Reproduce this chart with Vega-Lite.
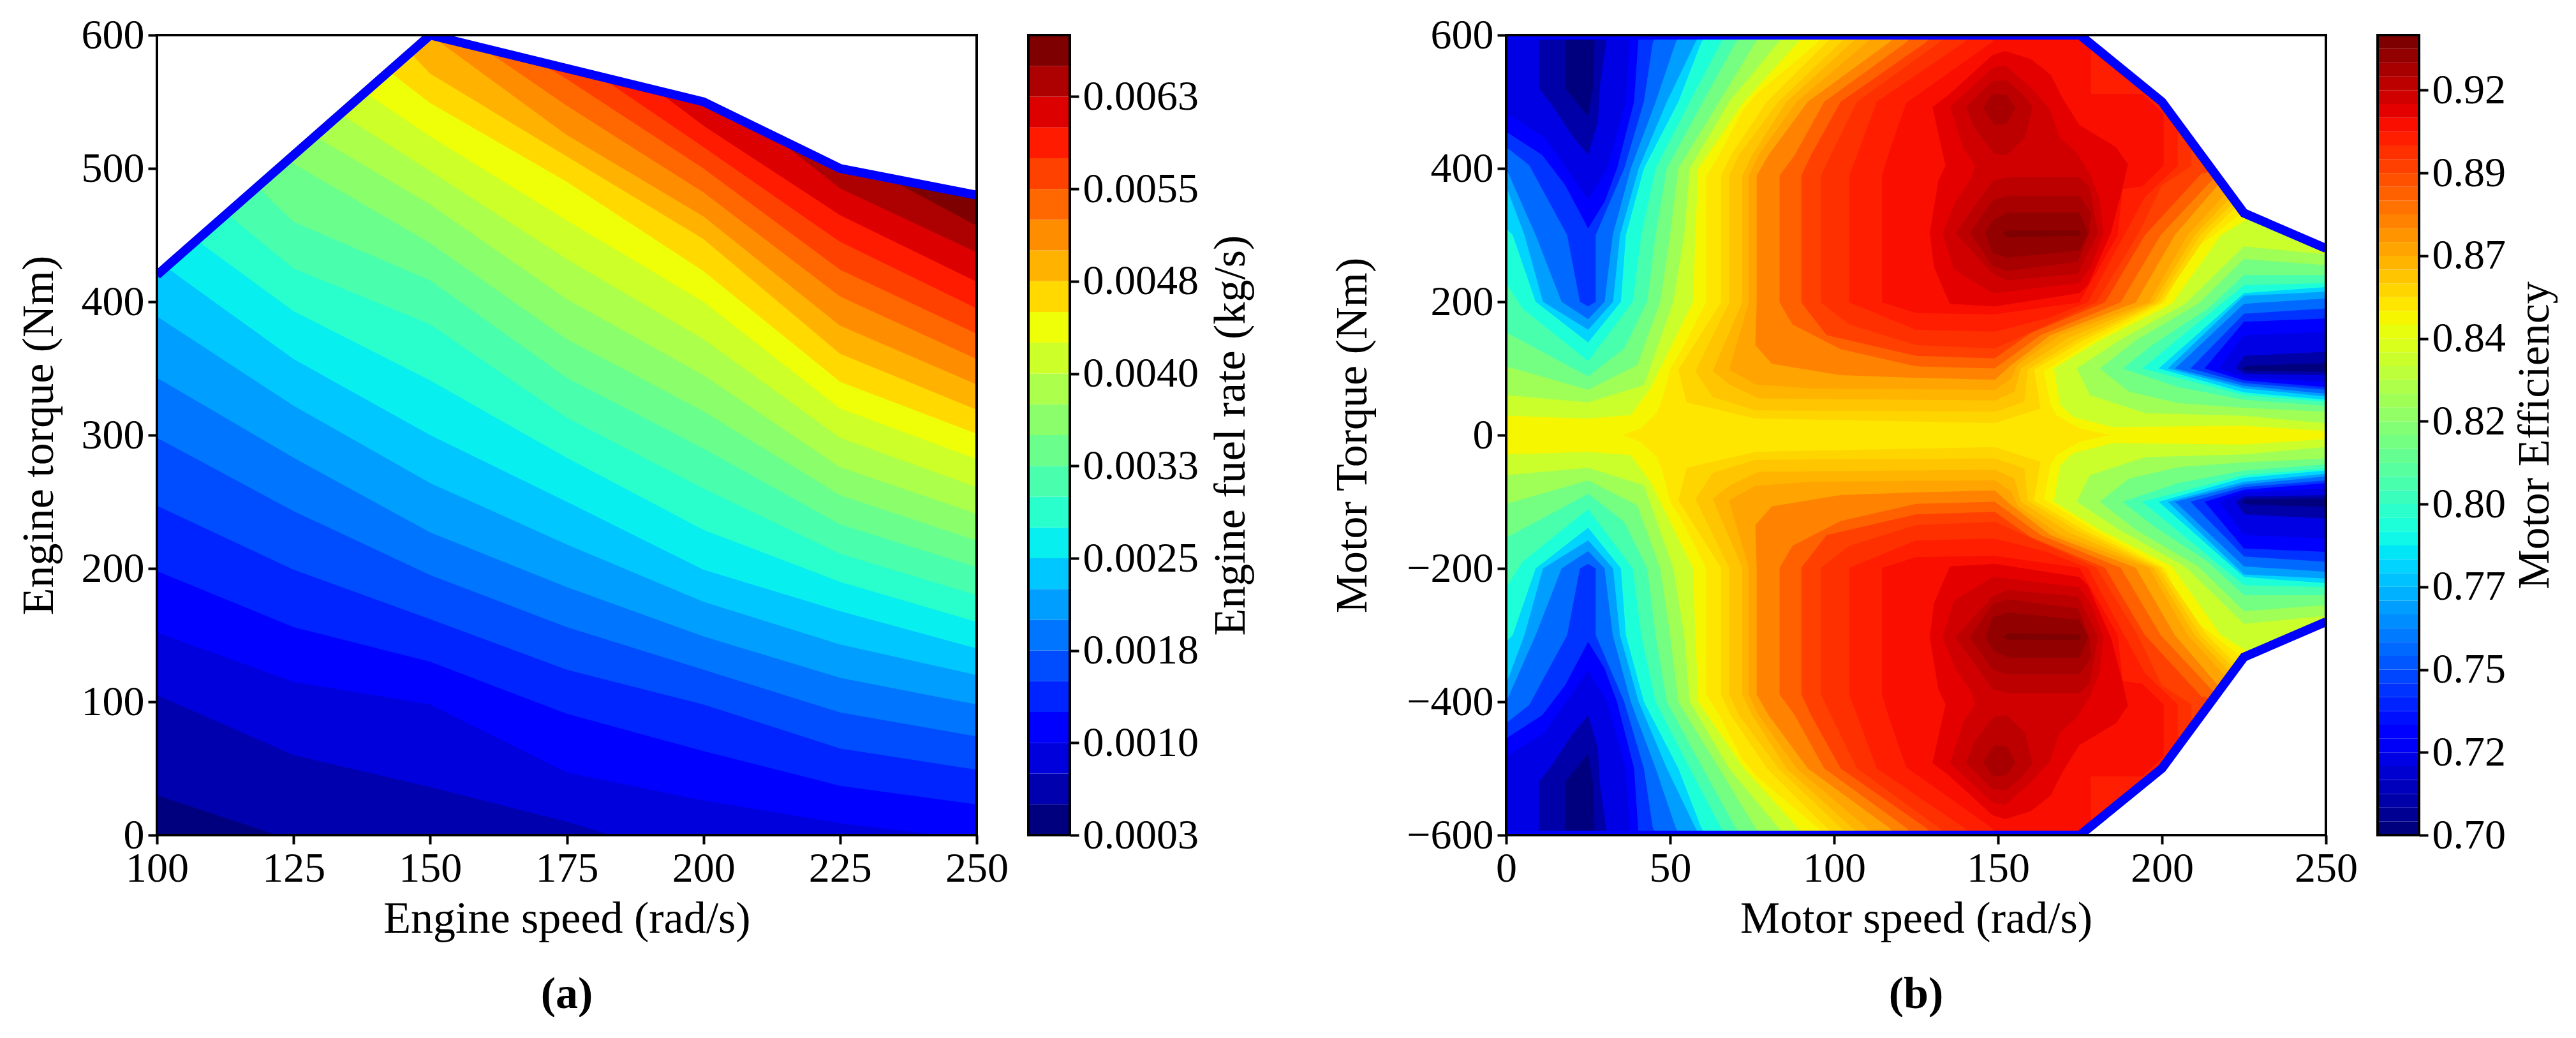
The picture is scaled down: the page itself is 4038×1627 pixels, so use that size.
{"$schema":"https://vega.github.io/schema/vega-lite/v6.json","background":"white","padding":{"left":26,"top":22,"right":0,"bottom":0},"bounds":"flush","spacing":81,"resolve":{"scale":{"fill":"independent"}},"config":{"view":{"stroke":null},"font":"Liberation Serif","axis":{"labelFontSize":66,"titleFontSize":70,"titleFontWeight":"normal","labelColor":"black","titleColor":"black","tickColor":"black","tickWidth":4,"tickSize":14,"domain":false,"grid":false,"labelPadding":6,"labelOverlap":false,"labelFlush":false,"labelLimit":500,"titleLimit":1400},"title":{"font":"Liberation Serif","fontSize":70,"fontWeight":"bold","color":"black"}},
"datasets":{"hmap":[
{"v":0.85,"x":0,"y":-1},{"v":0.85,"x":250,"y":-1},{"v":0.85,"x":250,"y":600},{"v":0.85,"x":0,"y":600},
{"v":0.838,"x":0,"y":29},{"v":0.838,"x":25,"y":25},{"v":0.838,"x":38,"y":30},{"v":0.838,"x":44,"y":70},{"v":0.838,"x":47,"y":100},{"v":0.838,"x":50,"y":130},{"v":0.838,"x":57,"y":200},{"v":0.838,"x":57.7,"y":300},{"v":0.838,"x":58.6,"y":400},{"v":0.838,"x":72.5,"y":500},{"v":0.838,"x":89,"y":589},{"v":0.838,"x":91,"y":600},{"v":0.838,"x":0,"y":600},
{"v":0.826,"x":0,"y":60},{"v":0.826,"x":25,"y":49},{"v":0.826,"x":42,"y":75},{"v":0.826,"x":51,"y":200},{"v":0.826,"x":54.3,"y":300},{"v":0.826,"x":56,"y":400},{"v":0.826,"x":68,"y":500},{"v":0.826,"x":83,"y":589},{"v":0.826,"x":85,"y":600},{"v":0.826,"x":0,"y":600},
{"v":0.814,"x":0,"y":103},{"v":0.814,"x":25,"y":68},{"v":0.814,"x":40,"y":105},{"v":0.814,"x":47,"y":200},{"v":0.814,"x":50,"y":300},{"v":0.814,"x":52.5,"y":400},{"v":0.814,"x":65,"y":500},{"v":0.814,"x":76,"y":589},{"v":0.814,"x":78,"y":600},{"v":0.814,"x":0,"y":600},
{"v":0.802,"x":0,"y":154},{"v":0.802,"x":25,"y":88},{"v":0.802,"x":36,"y":130},{"v":0.802,"x":43,"y":200},{"v":0.802,"x":45.6,"y":300},{"v":0.802,"x":49,"y":400},{"v":0.802,"x":60,"y":500},{"v":0.802,"x":70,"y":589},{"v":0.802,"x":72,"y":600},{"v":0.802,"x":0,"y":600},
{"v":0.79,"x":0,"y":228},{"v":0.79,"x":5,"y":190},{"v":0.79,"x":25,"y":111},{"v":0.79,"x":38.6,"y":200},{"v":0.79,"x":41.2,"y":300},{"v":0.79,"x":45.6,"y":400},{"v":0.79,"x":56,"y":500},{"v":0.79,"x":65.5,"y":589},{"v":0.79,"x":67,"y":600},{"v":0.79,"x":0,"y":600},
{"v":0.778,"x":0,"y":310},{"v":0.778,"x":2,"y":300},{"v":0.778,"x":9,"y":200},{"v":0.778,"x":25,"y":139},{"v":0.778,"x":35,"y":200},{"v":0.778,"x":36.5,"y":300},{"v":0.778,"x":42,"y":400},{"v":0.778,"x":52.5,"y":500},{"v":0.778,"x":59.5,"y":589},{"v":0.778,"x":61,"y":600},{"v":0.778,"x":0,"y":600},
{"v":0.766,"x":0,"y":373},{"v":0.766,"x":5.6,"y":300},{"v":0.766,"x":11.2,"y":200},{"v":0.766,"x":25,"y":158},{"v":0.766,"x":32.6,"y":200},{"v":0.766,"x":34.7,"y":300},{"v":0.766,"x":40.4,"y":400},{"v":0.766,"x":49,"y":500},{"v":0.766,"x":57.7,"y":589},{"v":0.766,"x":59,"y":600},{"v":0.766,"x":0,"y":600},
{"v":0.754,"x":0,"y":400},{"v":0.754,"x":9,"y":300},{"v":0.754,"x":16.9,"y":200},{"v":0.754,"x":25,"y":174},{"v":0.754,"x":30,"y":200},{"v":0.754,"x":32.5,"y":300},{"v":0.754,"x":38,"y":400},{"v":0.754,"x":45.6,"y":500},{"v":0.754,"x":51.7,"y":589},{"v":0.754,"x":53,"y":600},{"v":0.754,"x":0,"y":600},
{"v":0.742,"x":0,"y":432},{"v":0.742,"x":7,"y":405},{"v":0.742,"x":18.6,"y":300},{"v":0.742,"x":22.5,"y":200},{"v":0.742,"x":25,"y":193},{"v":0.742,"x":27.3,"y":200},{"v":0.742,"x":27.3,"y":300},{"v":0.742,"x":36,"y":400},{"v":0.742,"x":42,"y":500},{"v":0.742,"x":44.7,"y":589},{"v":0.742,"x":46,"y":600},{"v":0.742,"x":0,"y":600},
{"v":0.73,"x":0,"y":455},{"v":0.73,"x":11,"y":420},{"v":0.73,"x":18,"y":375},{"v":0.73,"x":25,"y":310},{"v":0.73,"x":30,"y":350},{"v":0.73,"x":33.8,"y":400},{"v":0.73,"x":39,"y":500},{"v":0.73,"x":40.4,"y":600},{"v":0.73,"x":0,"y":600},
{"v":0.722,"x":0,"y":482},{"v":0.722,"x":11.6,"y":447},{"v":0.722,"x":17.8,"y":404},{"v":0.722,"x":25,"y":353},{"v":0.722,"x":30.8,"y":400},{"v":0.722,"x":36.5,"y":500},{"v":0.722,"x":37.8,"y":600},{"v":0.722,"x":0,"y":600},
{"v":0.71,"x":10,"y":600},{"v":0.71,"x":10,"y":520},{"v":0.71,"x":14,"y":495},{"v":0.71,"x":20,"y":450},{"v":0.71,"x":25,"y":420},{"v":0.71,"x":28,"y":470},{"v":0.71,"x":28.5,"y":520},{"v":0.71,"x":30.8,"y":600},
{"v":0.702,"x":18,"y":600},{"v":0.702,"x":18,"y":520},{"v":0.702,"x":25,"y":478},{"v":0.702,"x":26.5,"y":520},{"v":0.702,"x":27,"y":600},
{"v":0.838,"g":1,"x":250,"y":290},{"v":0.838,"g":1,"x":228,"y":330},{"v":0.838,"g":1,"x":218,"y":300},{"v":0.838,"g":1,"x":203,"y":197},{"v":0.838,"g":1,"x":181,"y":142},{"v":0.838,"g":1,"x":167,"y":100},{"v":0.838,"g":1,"x":169,"y":45},{"v":0.838,"g":1,"x":173,"y":27},{"v":0.838,"g":1,"x":185,"y":12},{"v":0.838,"g":1,"x":225,"y":14},{"v":0.838,"g":1,"x":250,"y":6},
{"v":0.826,"g":1,"x":250,"y":271},{"v":0.826,"g":1,"x":225,"y":283},{"v":0.826,"g":1,"x":207,"y":197},{"v":0.826,"g":1,"x":187,"y":142},{"v":0.826,"g":1,"x":174,"y":100},{"v":0.826,"g":1,"x":178,"y":60},{"v":0.826,"g":1,"x":195,"y":33},{"v":0.826,"g":1,"x":225,"y":29},{"v":0.826,"g":1,"x":250,"y":18},
{"v":0.814,"g":1,"x":250,"y":255},{"v":0.814,"g":1,"x":225,"y":264},{"v":0.814,"g":1,"x":211,"y":197},{"v":0.814,"g":1,"x":192,"y":142},{"v":0.814,"g":1,"x":181,"y":100},{"v":0.814,"g":1,"x":190,"y":65},{"v":0.814,"g":1,"x":205,"y":48},{"v":0.814,"g":1,"x":225,"y":41},{"v":0.814,"g":1,"x":250,"y":35},
{"v":0.802,"g":1,"x":250,"y":240},{"v":0.802,"g":1,"x":225,"y":240},{"v":0.802,"g":1,"x":214,"y":190},{"v":0.802,"g":1,"x":197,"y":135},{"v":0.802,"g":1,"x":188,"y":100},{"v":0.802,"g":1,"x":205,"y":72},{"v":0.802,"g":1,"x":225,"y":53},{"v":0.802,"g":1,"x":250,"y":44},
{"v":0.79,"g":1,"x":250,"y":228},{"v":0.79,"g":1,"x":225,"y":225},{"v":0.79,"g":1,"x":194,"y":100},{"v":0.79,"g":1,"x":225,"y":60},{"v":0.79,"g":1,"x":250,"y":50},
{"v":0.778,"g":1,"x":250,"y":222},{"v":0.778,"g":1,"x":225,"y":213},{"v":0.778,"g":1,"x":199,"y":100},{"v":0.778,"g":1,"x":225,"y":64},{"v":0.778,"g":1,"x":250,"y":53},
{"v":0.766,"g":1,"x":250,"y":215},{"v":0.766,"g":1,"x":225,"y":209},{"v":0.766,"g":1,"x":201.8,"y":100},{"v":0.766,"g":1,"x":225,"y":70},{"v":0.766,"g":1,"x":250,"y":58},
{"v":0.754,"g":1,"x":250,"y":205},{"v":0.754,"g":1,"x":225,"y":197},{"v":0.754,"g":1,"x":204,"y":100},{"v":0.754,"g":1,"x":225,"y":74},{"v":0.754,"g":1,"x":250,"y":62},
{"v":0.742,"g":1,"x":250,"y":190},{"v":0.742,"g":1,"x":225,"y":182},{"v":0.742,"g":1,"x":208.7,"y":100},{"v":0.742,"g":1,"x":225,"y":78},{"v":0.742,"g":1,"x":250,"y":68},
{"v":0.73,"g":1,"x":250,"y":175},{"v":0.73,"g":1,"x":225,"y":170},{"v":0.73,"g":1,"x":213,"y":100},{"v":0.73,"g":1,"x":225,"y":82},{"v":0.73,"g":1,"x":250,"y":72},
{"v":0.722,"g":1,"x":250,"y":155},{"v":0.722,"g":1,"x":225,"y":150},{"v":0.722,"g":1,"x":217.4,"y":100},{"v":0.722,"g":1,"x":225,"y":86},{"v":0.722,"g":1,"x":250,"y":80},
{"v":0.71,"g":1,"x":250,"y":125},{"v":0.71,"g":1,"x":225,"y":119},{"v":0.71,"g":1,"x":222.6,"y":100},{"v":0.71,"g":1,"x":225,"y":92},{"v":0.71,"g":1,"x":250,"y":90},
{"v":0.702,"g":1,"x":250,"y":108},{"v":0.702,"g":1,"x":226,"y":104},{"v":0.702,"g":1,"x":224,"y":100},{"v":0.702,"g":1,"x":226,"y":96},{"v":0.702,"g":1,"x":250,"y":95},
{"v":0.854,"x":35,"y":-1},{"v":0.854,"x":41,"y":10},{"v":0.854,"x":46,"y":33},{"v":0.854,"x":48,"y":60},{"v":0.854,"x":50,"y":100},{"v":0.854,"x":53,"y":123},{"v":0.854,"x":61,"y":199},{"v":0.854,"x":61,"y":389},{"v":0.854,"x":65,"y":420},{"v":0.854,"x":72,"y":486},{"v":0.854,"x":76,"y":510},{"v":0.854,"x":95,"y":589},{"v":0.854,"x":97,"y":600},{"v":0.854,"x":250,"y":600},{"v":0.854,"x":250,"y":333},{"v":0.854,"x":224,"y":332},{"v":0.854,"x":215.7,"y":300},{"v":0.854,"x":208,"y":271},{"v":0.854,"x":200.9,"y":199},{"v":0.854,"x":179,"y":142},{"v":0.854,"x":164,"y":96},{"v":0.854,"x":166,"y":45},{"v":0.854,"x":168,"y":29},{"v":0.854,"x":175,"y":10},{"v":0.854,"x":185,"y":-1},
{"v":0.858,"x":76,"y":25},{"v":0.858,"x":55,"y":49},{"v":0.858,"x":52.5,"y":98},{"v":0.858,"x":65.5,"y":199},{"v":0.858,"x":65.5,"y":389},{"v":0.858,"x":68.5,"y":420},{"v":0.858,"x":79.5,"y":500},{"v":0.858,"x":97.7,"y":589},{"v":0.858,"x":100,"y":600},{"v":0.858,"x":250,"y":600},{"v":0.858,"x":240,"y":420},{"v":0.858,"x":222,"y":340},{"v":0.858,"x":213.7,"y":300},{"v":0.858,"x":199.8,"y":199},{"v":0.858,"x":176,"y":142},{"v":0.858,"x":161,"y":98},{"v":0.858,"x":163,"y":40},{"v":0.858,"x":149,"y":18},
{"v":0.862,"x":76,"y":37},{"v":0.862,"x":63,"y":57},{"v":0.862,"x":57.7,"y":96},{"v":0.862,"x":68,"y":199},{"v":0.862,"x":68,"y":389},{"v":0.862,"x":71,"y":420},{"v":0.862,"x":83,"y":500},{"v":0.862,"x":102,"y":589},{"v":0.862,"x":104,"y":600},{"v":0.862,"x":250,"y":600},{"v":0.862,"x":240,"y":420},{"v":0.862,"x":221,"y":345},{"v":0.862,"x":211.7,"y":300},{"v":0.862,"x":198.7,"y":199},{"v":0.862,"x":174,"y":143},{"v":0.862,"x":159,"y":98},{"v":0.862,"x":158,"y":50},{"v":0.862,"x":149,"y":35},
{"v":0.866,"x":77,"y":55},{"v":0.866,"x":68,"y":76},{"v":0.866,"x":63,"y":96},{"v":0.866,"x":72,"y":199},{"v":0.866,"x":72,"y":389},{"v":0.866,"x":75,"y":420},{"v":0.866,"x":85.5,"y":500},{"v":0.866,"x":105.5,"y":589},{"v":0.866,"x":108,"y":600},{"v":0.866,"x":250,"y":600},{"v":0.866,"x":240,"y":420},{"v":0.866,"x":220,"y":352},{"v":0.866,"x":210,"y":300},{"v":0.866,"x":197.4,"y":199},{"v":0.866,"x":171.5,"y":146},{"v":0.866,"x":157,"y":100},{"v":0.866,"x":155,"y":65},{"v":0.866,"x":149,"y":52},
{"v":0.87,"x":93,"y":70},{"v":0.87,"x":76,"y":76},{"v":0.87,"x":68,"y":98},{"v":0.87,"x":74,"y":199},{"v":0.87,"x":74,"y":389},{"v":0.87,"x":77,"y":420},{"v":0.87,"x":88.6,"y":500},{"v":0.87,"x":110,"y":589},{"v":0.87,"x":112,"y":600},{"v":0.87,"x":250,"y":600},{"v":0.87,"x":240,"y":420},{"v":0.87,"x":219,"y":360},{"v":0.87,"x":207.8,"y":300},{"v":0.87,"x":196,"y":199},{"v":0.87,"x":169,"y":150},{"v":0.87,"x":156,"y":106},{"v":0.87,"x":154,"y":85},{"v":0.87,"x":149,"y":68},
{"v":0.878,"x":125,"y":86},{"v":0.878,"x":102,"y":90},{"v":0.878,"x":81,"y":107},{"v":0.878,"x":76,"y":135},{"v":0.878,"x":76.4,"y":199},{"v":0.878,"x":76.4,"y":389},{"v":0.878,"x":80,"y":420},{"v":0.878,"x":92,"y":500},{"v":0.878,"x":116.8,"y":589},{"v":0.878,"x":119,"y":600},{"v":0.878,"x":250,"y":600},{"v":0.878,"x":240,"y":420},{"v":0.878,"x":217,"y":375},{"v":0.878,"x":203.9,"y":300},{"v":0.878,"x":192,"y":199},{"v":0.878,"x":166,"y":150},{"v":0.878,"x":154,"y":105},{"v":0.878,"x":149,"y":83},
{"v":0.886,"x":125,"y":103},{"v":0.886,"x":102,"y":129},{"v":0.886,"x":87.3,"y":166},{"v":0.886,"x":83.4,"y":199},{"v":0.886,"x":83.4,"y":389},{"v":0.886,"x":88,"y":420},{"v":0.886,"x":97,"y":500},{"v":0.886,"x":122,"y":589},{"v":0.886,"x":124,"y":600},{"v":0.886,"x":250,"y":600},{"v":0.886,"x":240,"y":420},{"v":0.886,"x":215.7,"y":385},{"v":0.886,"x":199.6,"y":300},{"v":0.886,"x":187.4,"y":199},{"v":0.886,"x":163,"y":150},{"v":0.886,"x":149,"y":100},
{"v":0.894,"x":125,"y":119},{"v":0.894,"x":97.7,"y":150},{"v":0.894,"x":90,"y":199},{"v":0.894,"x":90,"y":389},{"v":0.894,"x":93,"y":420},{"v":0.894,"x":102,"y":500},{"v":0.894,"x":128,"y":589},{"v":0.894,"x":130,"y":600},{"v":0.894,"x":250,"y":600},{"v":0.894,"x":240,"y":420},{"v":0.894,"x":212,"y":392},{"v":0.894,"x":194.8,"y":300},{"v":0.894,"x":182.6,"y":199},{"v":0.894,"x":160,"y":153},{"v":0.894,"x":149,"y":115},
{"v":0.898,"x":125,"y":135},{"v":0.898,"x":104.6,"y":166},{"v":0.898,"x":96,"y":199},{"v":0.898,"x":96,"y":389},{"v":0.898,"x":99,"y":420},{"v":0.898,"x":107,"y":500},{"v":0.898,"x":132,"y":589},{"v":0.898,"x":134,"y":600},{"v":0.898,"x":250,"y":600},{"v":0.898,"x":240,"y":500},{"v":0.898,"x":209,"y":428},{"v":0.898,"x":209,"y":404},{"v":0.898,"x":200,"y":375},{"v":0.898,"x":192.6,"y":300},{"v":0.898,"x":180,"y":199},{"v":0.898,"x":165,"y":165},{"v":0.898,"x":149,"y":130},
{"v":0.902,"x":125,"y":158},{"v":0.902,"x":104.6,"y":199},{"v":0.902,"x":104.6,"y":389},{"v":0.902,"x":107,"y":420},{"v":0.902,"x":113,"y":500},{"v":0.902,"x":139.6,"y":589},{"v":0.902,"x":142,"y":600},{"v":0.902,"x":250,"y":600},{"v":0.902,"x":215,"y":500},{"v":0.902,"x":204.8,"y":451},{"v":0.902,"x":204.8,"y":404},{"v":0.902,"x":194.8,"y":357},{"v":0.902,"x":189.6,"y":310},{"v":0.902,"x":177.4,"y":199},{"v":0.902,"x":165,"y":175},{"v":0.902,"x":149,"y":155},
{"v":0.906,"x":125,"y":183},{"v":0.906,"x":114.6,"y":199},{"v":0.906,"x":114.6,"y":389},{"v":0.906,"x":117,"y":428},{"v":0.906,"x":122,"y":498},{"v":0.906,"x":148,"y":589},{"v":0.906,"x":150,"y":600},{"v":0.906,"x":178.3,"y":600},{"v":0.906,"x":178.3,"y":512},{"v":0.906,"x":194,"y":512},{"v":0.906,"x":200.5,"y":482},{"v":0.906,"x":200.5,"y":404},{"v":0.906,"x":194,"y":373},{"v":0.906,"x":188,"y":369},{"v":0.906,"x":186.5,"y":300},{"v":0.906,"x":174.8,"y":199},{"v":0.906,"x":149,"y":181},
{"v":0.91,"x":152.2,"y":576},{"v":0.91,"x":148.3,"y":570},{"v":0.91,"x":134.9,"y":510},{"v":0.91,"x":130,"y":492},{"v":0.91,"x":134,"y":404},{"v":0.91,"x":131.8,"y":381},{"v":0.91,"x":129.2,"y":303},{"v":0.91,"x":130.5,"y":252},{"v":0.91,"x":135.3,"y":197},{"v":0.91,"x":149,"y":193},{"v":0.91,"x":174.8,"y":213},{"v":0.91,"x":177.4,"y":225},{"v":0.91,"x":184.4,"y":303},{"v":0.91,"x":187.9,"y":369},{"v":0.91,"x":189.6,"y":406},{"v":0.91,"x":186,"y":432},{"v":0.91,"x":174.8,"y":465},{"v":0.91,"x":169.6,"y":506},{"v":0.91,"x":166,"y":541},{"v":0.91,"x":160,"y":564},
{"v":0.914,"x":152.2,"y":555},{"v":0.914,"x":148.3,"y":551},{"v":0.914,"x":135.3,"y":492},{"v":0.914,"x":139.6,"y":428},{"v":0.914,"x":143,"y":404},{"v":0.914,"x":141.8,"y":385},{"v":0.914,"x":137,"y":350},{"v":0.914,"x":133,"y":303},{"v":0.914,"x":136.6,"y":248},{"v":0.914,"x":148.3,"y":213},{"v":0.914,"x":153,"y":215},{"v":0.914,"x":174.8,"y":228},{"v":0.914,"x":178.3,"y":252},{"v":0.914,"x":182.2,"y":303},{"v":0.914,"x":180.9,"y":357},{"v":0.914,"x":178.3,"y":389},{"v":0.914,"x":174,"y":424},{"v":0.914,"x":168.7,"y":447},{"v":0.914,"x":165.7,"y":490},{"v":0.914,"x":160,"y":521},
{"v":0.918,"x":148.3,"y":531},{"v":0.918,"x":152.7,"y":532},{"v":0.918,"x":157.9,"y":510},{"v":0.918,"x":160.5,"y":492},{"v":0.918,"x":158.3,"y":447},{"v":0.918,"x":152.7,"y":420},{"v":0.918,"x":148.8,"y":422},{"v":0.918,"x":143,"y":459},{"v":0.918,"x":140.2,"y":492},
{"v":0.918,"g":1,"x":148.3,"y":381},{"v":0.918,"g":1,"x":153,"y":387},{"v":0.918,"g":1,"x":174.8,"y":387},{"v":0.918,"g":1,"x":177.9,"y":373},{"v":0.918,"g":1,"x":180.5,"y":303},{"v":0.918,"g":1,"x":174.4,"y":242},{"v":0.918,"g":1,"x":153,"y":232},{"v":0.918,"g":1,"x":148.3,"y":242},{"v":0.918,"g":1,"x":137,"y":303},
{"v":0.922,"x":148.3,"y":512},{"v":0.922,"x":152.7,"y":510},{"v":0.922,"x":155.3,"y":491},{"v":0.922,"x":152.7,"y":467},{"v":0.922,"x":148.8,"y":465},{"v":0.922,"x":145.5,"y":491},
{"v":0.922,"g":1,"x":148.3,"y":352},{"v":0.922,"g":1,"x":153,"y":359},{"v":0.922,"g":1,"x":174.8,"y":359},{"v":0.922,"g":1,"x":178.3,"y":334},{"v":0.922,"g":1,"x":177.9,"y":303},{"v":0.922,"g":1,"x":174.4,"y":260},{"v":0.922,"g":1,"x":152.7,"y":246},{"v":0.922,"g":1,"x":148.3,"y":254},{"v":0.922,"g":1,"x":141.4,"y":303},
{"v":0.926,"x":146.2,"y":303},{"v":0.926,"x":148.3,"y":322},{"v":0.926,"x":153,"y":334},{"v":0.926,"x":174.8,"y":334},{"v":0.926,"x":177.5,"y":303},{"v":0.926,"x":174.8,"y":277},{"v":0.926,"x":153,"y":266},{"v":0.926,"x":148.3,"y":273},
{"v":0.93,"x":151.4,"y":303},{"v":0.93,"x":153,"y":307},{"v":0.93,"x":174.8,"y":307},{"v":0.93,"x":175.3,"y":303},{"v":0.93,"x":174.8,"y":299},{"v":0.93,"x":153,"y":297}
],
"hmask":[{"x":175,"y":600},{"x":200,"y":500},{"x":225,"y":333},{"x":250,"y":280},{"x":250,"y":610},{"x":175,"y":610}],
"henv":[{"x":0,"y":600},{"x":175,"y":600},{"x":200,"y":500},{"x":225,"y":333},{"x":250,"y":280}]},
"hconcat":[
{"width":1285,"height":1254,"title":{"text":"(a)","orient":"bottom","offset":50},"layer":[
{"data":{"values":[{"v":0.000425,"x":100,"y":0},{"v":0.000425,"x":250,"y":0},{"v":0.000425,"x":250,"y":600},{"v":0.000425,"x":100,"y":600},
{"v":0.000675,"x":100,"y":30},{"v":0.000675,"x":122,"y":0},{"v":0.000675,"x":250,"y":0},{"v":0.000675,"x":250,"y":600},{"v":0.000675,"x":100,"y":600},
{"v":0.000925,"x":100,"y":105},{"v":0.000925,"x":125,"y":60},{"v":0.000925,"x":150,"y":36},{"v":0.000925,"x":175,"y":10},{"v":0.000925,"x":183,"y":0},{"v":0.000925,"x":250,"y":0},{"v":0.000925,"x":250,"y":600},{"v":0.000925,"x":100,"y":600},
{"v":0.001175,"x":100,"y":152},{"v":0.001175,"x":125,"y":115},{"v":0.001175,"x":150,"y":98},{"v":0.001175,"x":175,"y":47},{"v":0.001175,"x":200,"y":26},{"v":0.001175,"x":225,"y":9},{"v":0.001175,"x":243,"y":0},{"v":0.001175,"x":250,"y":0},{"v":0.001175,"x":250,"y":600},{"v":0.001175,"x":100,"y":600},
{"v":0.001425,"x":100,"y":198},{"v":0.001425,"x":125,"y":156},{"v":0.001425,"x":150,"y":130},{"v":0.001425,"x":175,"y":91},{"v":0.001425,"x":200,"y":63},{"v":0.001425,"x":225,"y":37},{"v":0.001425,"x":250,"y":23},{"v":0.001425,"x":250,"y":600},{"v":0.001425,"x":100,"y":600},
{"v":0.001675,"x":100,"y":247},{"v":0.001675,"x":125,"y":199},{"v":0.001675,"x":150,"y":162},{"v":0.001675,"x":175,"y":124},{"v":0.001675,"x":200,"y":98},{"v":0.001675,"x":225,"y":65},{"v":0.001675,"x":250,"y":49},{"v":0.001675,"x":250,"y":600},{"v":0.001675,"x":100,"y":600},
{"v":0.001925,"x":100,"y":298},{"v":0.001925,"x":125,"y":243},{"v":0.001925,"x":150,"y":195},{"v":0.001925,"x":175,"y":156},{"v":0.001925,"x":200,"y":124},{"v":0.001925,"x":225,"y":92},{"v":0.001925,"x":250,"y":74},{"v":0.001925,"x":250,"y":600},{"v":0.001925,"x":100,"y":600},
{"v":0.002175,"x":100,"y":343},{"v":0.002175,"x":125,"y":283},{"v":0.002175,"x":150,"y":227},{"v":0.002175,"x":175,"y":186},{"v":0.002175,"x":200,"y":149},{"v":0.002175,"x":225,"y":118},{"v":0.002175,"x":250,"y":98},{"v":0.002175,"x":250,"y":600},{"v":0.002175,"x":100,"y":600},
{"v":0.002425,"x":100,"y":389},{"v":0.002425,"x":125,"y":322},{"v":0.002425,"x":150,"y":264},{"v":0.002425,"x":175,"y":218},{"v":0.002425,"x":200,"y":175},{"v":0.002425,"x":225,"y":143},{"v":0.002425,"x":250,"y":120},{"v":0.002425,"x":250,"y":600},{"v":0.002425,"x":100,"y":600},
{"v":0.002675,"x":102,"y":425},{"v":0.002675,"x":125,"y":357},{"v":0.002675,"x":150,"y":300},{"v":0.002675,"x":175,"y":250},{"v":0.002675,"x":200,"y":199},{"v":0.002675,"x":225,"y":168},{"v":0.002675,"x":250,"y":140},{"v":0.002675,"x":250,"y":600},{"v":0.002675,"x":102,"y":600},
{"v":0.002925,"x":107.3,"y":446},{"v":0.002925,"x":125,"y":393},{"v":0.002925,"x":150,"y":341},{"v":0.002925,"x":175,"y":283},{"v":0.002925,"x":200,"y":229},{"v":0.002925,"x":225,"y":190},{"v":0.002925,"x":250,"y":160},{"v":0.002925,"x":250,"y":600},{"v":0.002925,"x":107.3,"y":600},
{"v":0.003175,"x":112.8,"y":466},{"v":0.003175,"x":125,"y":425},{"v":0.003175,"x":150,"y":383},{"v":0.003175,"x":175,"y":313},{"v":0.003175,"x":200,"y":260},{"v":0.003175,"x":225,"y":211},{"v":0.003175,"x":250,"y":180},{"v":0.003175,"x":250,"y":600},{"v":0.003175,"x":112.8,"y":600},
{"v":0.003425,"x":118.4,"y":486},{"v":0.003425,"x":125,"y":460},{"v":0.003425,"x":150,"y":416},{"v":0.003425,"x":175,"y":343},{"v":0.003425,"x":200,"y":290},{"v":0.003425,"x":225,"y":233},{"v":0.003425,"x":250,"y":201},{"v":0.003425,"x":250,"y":600},{"v":0.003425,"x":118.4,"y":600},
{"v":0.003675,"x":124,"y":506},{"v":0.003675,"x":150,"y":444},{"v":0.003675,"x":175,"y":372},{"v":0.003675,"x":200,"y":318},{"v":0.003675,"x":225,"y":255},{"v":0.003675,"x":250,"y":221},{"v":0.003675,"x":250,"y":600},{"v":0.003675,"x":124,"y":600},
{"v":0.003925,"x":129,"y":524},{"v":0.003925,"x":150,"y":473},{"v":0.003925,"x":175,"y":402},{"v":0.003925,"x":200,"y":345},{"v":0.003925,"x":225,"y":276},{"v":0.003925,"x":250,"y":241},{"v":0.003925,"x":250,"y":600},{"v":0.003925,"x":129,"y":600},
{"v":0.004175,"x":133.5,"y":541},{"v":0.004175,"x":150,"y":498},{"v":0.004175,"x":175,"y":432},{"v":0.004175,"x":200,"y":372},{"v":0.004175,"x":225,"y":298},{"v":0.004175,"x":250,"y":261},{"v":0.004175,"x":250,"y":600},{"v":0.004175,"x":133.5,"y":600},
{"v":0.004425,"x":138,"y":557},{"v":0.004425,"x":150,"y":524},{"v":0.004425,"x":175,"y":461},{"v":0.004425,"x":200,"y":400},{"v":0.004425,"x":225,"y":320},{"v":0.004425,"x":250,"y":282},{"v":0.004425,"x":250,"y":600},{"v":0.004425,"x":138,"y":600},
{"v":0.004675,"x":142.4,"y":573},{"v":0.004675,"x":150,"y":549},{"v":0.004675,"x":175,"y":490},{"v":0.004675,"x":200,"y":423},{"v":0.004675,"x":225,"y":340},{"v":0.004675,"x":250,"y":301},{"v":0.004675,"x":250,"y":600},{"v":0.004675,"x":142.4,"y":600},
{"v":0.004925,"x":146.3,"y":587},{"v":0.004925,"x":150,"y":571},{"v":0.004925,"x":175,"y":509},{"v":0.004925,"x":200,"y":447},{"v":0.004925,"x":225,"y":361},{"v":0.004925,"x":250,"y":319},{"v":0.004925,"x":250,"y":600},{"v":0.004925,"x":146.3,"y":600},
{"v":0.005175,"x":150,"y":600},{"v":0.005175,"x":175,"y":525},{"v":0.005175,"x":200,"y":464},{"v":0.005175,"x":225,"y":382},{"v":0.005175,"x":250,"y":338},{"v":0.005175,"x":250,"y":600},
{"v":0.005425,"x":159.7,"y":590},{"v":0.005425,"x":175,"y":547},{"v":0.005425,"x":200,"y":482},{"v":0.005425,"x":225,"y":404},{"v":0.005425,"x":250,"y":357},{"v":0.005425,"x":250,"y":600},{"v":0.005425,"x":159.7,"y":600},
{"v":0.005675,"x":169.8,"y":580},{"v":0.005675,"x":175,"y":567},{"v":0.005675,"x":200,"y":500},{"v":0.005675,"x":225,"y":424},{"v":0.005675,"x":250,"y":376},{"v":0.005675,"x":250,"y":600},{"v":0.005675,"x":169.8,"y":600},
{"v":0.005925,"x":181,"y":569},{"v":0.005925,"x":200,"y":516},{"v":0.005925,"x":225,"y":445},{"v":0.005925,"x":250,"y":395},{"v":0.005925,"x":250,"y":600},{"v":0.005925,"x":181,"y":600},
{"v":0.006175,"x":191.6,"y":558},{"v":0.006175,"x":200,"y":532},{"v":0.006175,"x":225,"y":465},{"v":0.006175,"x":250,"y":415},{"v":0.006175,"x":250,"y":600},{"v":0.006175,"x":191.6,"y":600},
{"v":0.006425,"x":207,"y":543},{"v":0.006425,"x":225,"y":485},{"v":0.006425,"x":250,"y":437},{"v":0.006425,"x":250,"y":600},{"v":0.006425,"x":207,"y":600},
{"v":0.006675,"x":233.6,"y":493},{"v":0.006675,"x":250,"y":457},{"v":0.006675,"x":250,"y":600},{"v":0.006675,"x":233.6,"y":600}]},
"mark":{"type":"line","clip":true,"strokeWidth":0},
"encoding":{"x":{"field":"x","type":"quantitative","scale":{"domain":[100,250],"nice":false,"zero":false},"axis":{"title":"Engine speed (rad/s)","values":[100,125,150,175,200,225,250],"titlePadding":12}},"y":{"field":"y","type":"quantitative","scale":{"domain":[0,600],"nice":false},"axis":{"title":"Engine torque (Nm)","values":[0,100,200,300,400,500,600],"titlePadding":30}},"detail":{"field":"v"},"order":{"value":null},"fill":{"field":"v","type":"quantitative","legend":null,"scale":{"domain":[0.000425,0.0011125,0.00120625,0.00255,0.0026125,0.00276875,0.004425,0.0044875,0.00455,0.00598,0.00611,0.006675],"range":["#00007f","#0000ff","#0000ff","#00dbff","#00e5f8","#14ffe2","#eeff08","#f7f500","#ffec00","#ff1300","#e80000","#7f0000"],"interpolate":"rgb","nice":false,"zero":false}}}},
{"data":{"values":[{"x":100,"y":420},{"x":150,"y":600},{"x":200,"y":550},{"x":225,"y":500},{"x":250,"y":480},{"x":250,"y":610},{"x":100,"y":610}]},"mark":{"type":"line","clip":true,"strokeWidth":0,"fill":"white"},"encoding":{"x":{"field":"x","type":"quantitative"},"y":{"field":"y","type":"quantitative"},"order":{"value":null}}},
{"data":{"values":[{"x":100,"y":420},{"x":150,"y":600},{"x":200,"y":550},{"x":225,"y":500},{"x":250,"y":480}]},"mark":{"type":"line","clip":true,"strokeWidth":14,"color":"#0000ff"},"encoding":{"x":{"field":"x","type":"quantitative"},"y":{"field":"y","type":"quantitative"}}},
{"data":{"values":[{"a":100,"b":250,"c":0,"d":600}]},"mark":{"type":"rect","fill":null,"stroke":"black","strokeWidth":4},"encoding":{"x":{"field":"a","type":"quantitative"},"x2":{"field":"b"},"y":{"field":"c","type":"quantitative"},"y2":{"field":"d"}}}
]},
{"width":65,"height":1254,"data":{"values":[{"l":0.0003,"h":0.00055,"v":0.000425},{"l":0.00055,"h":0.0008,"v":0.000675},{"l":0.0008,"h":0.00105,"v":0.000925},{"l":0.00105,"h":0.0013,"v":0.001175},{"l":0.0013,"h":0.00155,"v":0.001425},{"l":0.00155,"h":0.0018,"v":0.001675},{"l":0.0018,"h":0.00205,"v":0.001925},{"l":0.00205,"h":0.0023,"v":0.002175},{"l":0.0023,"h":0.00255,"v":0.002425},{"l":0.00255,"h":0.0028,"v":0.002675},{"l":0.0028,"h":0.00305,"v":0.002925},{"l":0.00305,"h":0.0033,"v":0.003175},{"l":0.0033,"h":0.00355,"v":0.003425},{"l":0.00355,"h":0.0038,"v":0.003675},{"l":0.0038,"h":0.00405,"v":0.003925},{"l":0.00405,"h":0.0043,"v":0.004175},{"l":0.0043,"h":0.00455,"v":0.004425},{"l":0.00455,"h":0.0048,"v":0.004675},{"l":0.0048,"h":0.00505,"v":0.004925},{"l":0.00505,"h":0.0053,"v":0.005175},{"l":0.0053,"h":0.00555,"v":0.005425},{"l":0.00555,"h":0.0058,"v":0.005675},{"l":0.0058,"h":0.00605,"v":0.005925},{"l":0.00605,"h":0.0063,"v":0.006175},{"l":0.0063,"h":0.00655,"v":0.006425},{"l":0.00655,"h":0.0068,"v":0.006675}]},
"layer":[{"mark":{"type":"rect"},"encoding":{"y":{"field":"l","type":"quantitative","scale":{"domain":[0.0003,0.0068],"nice":false,"zero":false},"axis":{"orient":"right","title":"Engine fuel rate (kg/s)","titleAngle":-90,"titleBaseline":"top","values":[0.0003,0.00105,0.0018,0.002549,0.0033,0.00405,0.0048,0.005549,0.0063],"format":".4f","titlePadding":18}},"y2":{"field":"h"},"fill":{"field":"v","type":"quantitative","legend":null,"scale":{"domain":[0.000425,0.0011125,0.00120625,0.00255,0.0026125,0.00276875,0.004425,0.0044875,0.00455,0.00598,0.00611,0.006675],"range":["#00007f","#0000ff","#0000ff","#00dbff","#00e5f8","#14ffe2","#eeff08","#f7f500","#ffec00","#ff1300","#e80000","#7f0000"],"interpolate":"rgb","nice":false,"zero":false}}}},
{"data":{"values":[{"c":0.0003,"d":0.0068}]},"mark":{"type":"rect","fill":null,"stroke":"black","strokeWidth":4},"encoding":{"y":{"field":"c","type":"quantitative"},"y2":{"field":"d"}}}]},
{"width":522,"height":10,"data":{"values":[{"a":1}]},"mark":{"type":"rect","opacity":0},"encoding":{}},
{"width":1285,"height":1254,"title":{"text":"(b)","orient":"bottom","offset":50},"resolve":{"scale":{"y":"independent"}},"layer":[
{"data":{"name":"hmap"},"mark":{"type":"line","clip":true,"strokeWidth":0},"encoding":{"x":{"field":"x","type":"quantitative","scale":{"domain":[0,250],"nice":false,"zero":false},"axis":{"title":"Motor speed (rad/s)","values":[0,50,100,150,200,250],"titlePadding":12}},"y":{"field":"y","type":"quantitative","scale":{"domain":[-600,600],"nice":false},"axis":{"title":"Motor Torque (Nm)","values":[-600,-400,-200,0,200,400,600],"titlePadding":48}},"detail":[{"field":"v"},{"field":"g"}],"order":{"value":null},"fill":{"field":"v","type":"quantitative","legend":null,"scale":{"domain":[0.702,0.7271,0.7305,0.7795,0.7818,0.7875,0.8479,0.8502,0.8525,0.9049,0.9095,0.93],"range":["#00007f","#0000ff","#0000ff","#00dbff","#00e5f8","#14ffe2","#eeff08","#f7f500","#ffec00","#ff1300","#e80000","#7f0000"],"interpolate":"rgb","nice":false,"zero":false}}}},
{"data":{"name":"hmap"},"mark":{"type":"line","clip":true,"strokeWidth":0},"encoding":{"x":{"field":"x","type":"quantitative"},"y":{"field":"y","type":"quantitative","scale":{"domain":[600,-600],"nice":false},"axis":null},"detail":[{"field":"v"},{"field":"g"}],"order":{"value":null},"fill":{"field":"v","type":"quantitative","legend":null}}},
{"data":{"name":"hmask"},"mark":{"type":"line","clip":true,"strokeWidth":0,"fill":"white"},"encoding":{"x":{"field":"x","type":"quantitative"},"y":{"field":"y","type":"quantitative","scale":{"domain":[-600,600],"nice":false},"axis":null},"order":{"value":null}}},
{"data":{"name":"hmask"},"mark":{"type":"line","clip":true,"strokeWidth":0,"fill":"white"},"encoding":{"x":{"field":"x","type":"quantitative"},"y":{"field":"y","type":"quantitative","scale":{"domain":[600,-600],"nice":false},"axis":null},"order":{"value":null}}},
{"data":{"name":"henv"},"mark":{"type":"line","clip":true,"strokeWidth":14,"color":"#0000ff"},"encoding":{"x":{"field":"x","type":"quantitative"},"y":{"field":"y","type":"quantitative","scale":{"domain":[-600,600],"nice":false},"axis":null}}},
{"data":{"name":"henv"},"mark":{"type":"line","clip":true,"strokeWidth":14,"color":"#0000ff"},"encoding":{"x":{"field":"x","type":"quantitative"},"y":{"field":"y","type":"quantitative","scale":{"domain":[600,-600],"nice":false},"axis":null}}},
{"data":{"values":[{"a":0,"b":250,"c":-600,"d":600}]},"mark":{"type":"rect","fill":null,"stroke":"black","strokeWidth":4},"encoding":{"x":{"field":"a","type":"quantitative"},"x2":{"field":"b"},"y":{"field":"c","type":"quantitative","scale":{"domain":[-600,600],"nice":false},"axis":null},"y2":{"field":"d"}}}
]},
{"width":65,"height":1254,"data":{"values":[{"l":0.7,"h":0.704,"v":0.702},{"l":0.704,"h":0.708,"v":0.706},{"l":0.708,"h":0.712,"v":0.71},{"l":0.712,"h":0.716,"v":0.714},{"l":0.716,"h":0.72,"v":0.718},{"l":0.72,"h":0.724,"v":0.722},{"l":0.724,"h":0.728,"v":0.726},{"l":0.728,"h":0.732,"v":0.73},{"l":0.732,"h":0.736,"v":0.734},{"l":0.736,"h":0.74,"v":0.738},{"l":0.74,"h":0.744,"v":0.742},{"l":0.744,"h":0.748,"v":0.746},{"l":0.748,"h":0.752,"v":0.75},{"l":0.752,"h":0.756,"v":0.754},{"l":0.756,"h":0.76,"v":0.758},{"l":0.76,"h":0.764,"v":0.762},{"l":0.764,"h":0.768,"v":0.766},{"l":0.768,"h":0.772,"v":0.77},{"l":0.772,"h":0.776,"v":0.774},{"l":0.776,"h":0.78,"v":0.778},{"l":0.78,"h":0.784,"v":0.782},{"l":0.784,"h":0.788,"v":0.786},{"l":0.788,"h":0.792,"v":0.79},{"l":0.792,"h":0.796,"v":0.794},{"l":0.796,"h":0.8,"v":0.798},{"l":0.8,"h":0.804,"v":0.802},{"l":0.804,"h":0.808,"v":0.806},{"l":0.808,"h":0.812,"v":0.81},{"l":0.812,"h":0.816,"v":0.814},{"l":0.816,"h":0.82,"v":0.818},{"l":0.82,"h":0.824,"v":0.822},{"l":0.824,"h":0.828,"v":0.826},{"l":0.828,"h":0.832,"v":0.83},{"l":0.832,"h":0.836,"v":0.834},{"l":0.836,"h":0.84,"v":0.838},{"l":0.84,"h":0.844,"v":0.842},{"l":0.844,"h":0.848,"v":0.846},{"l":0.848,"h":0.852,"v":0.85},{"l":0.852,"h":0.856,"v":0.854},{"l":0.856,"h":0.86,"v":0.858},{"l":0.86,"h":0.864,"v":0.862},{"l":0.864,"h":0.868,"v":0.866},{"l":0.868,"h":0.872,"v":0.87},{"l":0.872,"h":0.876,"v":0.874},{"l":0.876,"h":0.88,"v":0.878},{"l":0.88,"h":0.884,"v":0.882},{"l":0.884,"h":0.888,"v":0.886},{"l":0.888,"h":0.892,"v":0.89},{"l":0.892,"h":0.896,"v":0.894},{"l":0.896,"h":0.9,"v":0.898},{"l":0.9,"h":0.904,"v":0.902},{"l":0.904,"h":0.908,"v":0.906},{"l":0.908,"h":0.912,"v":0.91},{"l":0.912,"h":0.916,"v":0.914},{"l":0.916,"h":0.92,"v":0.918},{"l":0.92,"h":0.924,"v":0.922},{"l":0.924,"h":0.928,"v":0.926},{"l":0.928,"h":0.932,"v":0.93}]},
"layer":[{"mark":{"type":"rect"},"encoding":{"y":{"field":"l","type":"quantitative","scale":{"domain":[0.7,0.932],"nice":false,"zero":false},"axis":{"orient":"right","title":"Motor Efficiency","titleAngle":-90,"titleBaseline":"top","values":[0.7,0.724,0.748,0.772,0.796,0.82,0.844,0.868,0.892,0.916],"format":".2f","titlePadding":12}},"y2":{"field":"h"},"fill":{"field":"v","type":"quantitative","legend":null,"scale":{"domain":[0.702,0.7271,0.7305,0.7795,0.7818,0.7875,0.8479,0.8502,0.8525,0.9049,0.9095,0.93],"range":["#00007f","#0000ff","#0000ff","#00dbff","#00e5f8","#14ffe2","#eeff08","#f7f500","#ffec00","#ff1300","#e80000","#7f0000"],"interpolate":"rgb","nice":false,"zero":false}}}},
{"data":{"values":[{"c":0.7,"d":0.932}]},"mark":{"type":"rect","fill":null,"stroke":"black","strokeWidth":4},"encoding":{"y":{"field":"c","type":"quantitative"},"y2":{"field":"d"}}}]}
]}
